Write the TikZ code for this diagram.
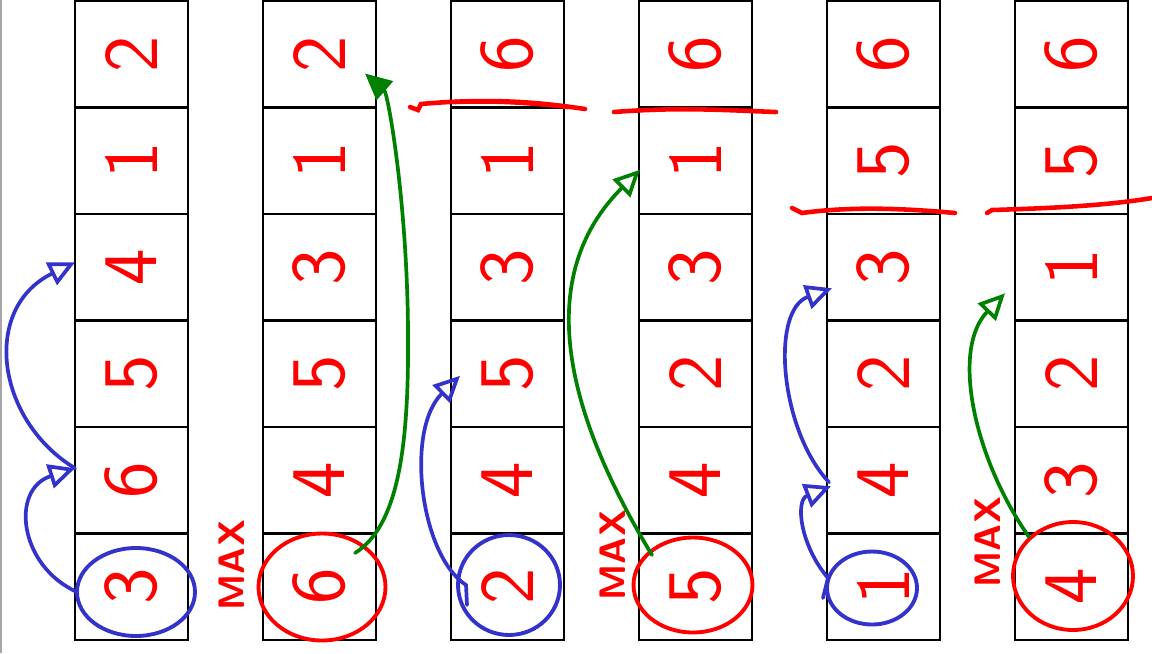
\documentclass[tikz,border=0pt]{standalone}
\usetikzlibrary{shapes.geometric,arrows.meta,calc}
\definecolor{penred}{RGB}{255,0,0}
\definecolor{penblue}{RGB}{51,51,204}
\definecolor{pengreen}{RGB}{0,128,0}
\begin{document}
\begin{tikzpicture}[x=0.02cm,y=-0.02cm,
  cell/.style={draw=black, line width=1.6pt, minimum width=2.26cm, minimum height=2.13cm, inner sep=0pt, outer sep=0pt},
  digit/.style={text=penred, rotate=90, font=\sffamily\fontsize{44}{44}\selectfont, inner sep=0pt},
  maxlbl/.style={text=penred, rotate=90, font=\sffamily\bfseries\fontsize{21}{21}\selectfont, inner sep=0pt},
  ring/.style={ellipse, line width=2.2pt, inner sep=0pt, outer sep=0pt},
  flip/.style={line width=2.1pt, line cap=round, -{Triangle[open,length=15pt,width=14pt]}},
  flipfill/.style={line width=2.1pt, line cap=round, -{Triangle[length=15pt,width=14pt]}},
  cut/.style={draw=penred, line width=2.6pt, line cap=round},
]
\useasboundingbox (0,0) rectangle (1152,653);
\fill[white] (0,0) rectangle (1152,653);
\draw[gray!70, line width=1.5pt] (0.7,0) -- (0.7,653);

% cells and digits
\foreach \cc/\va/\vb/\vc/\vd/\ve/\vf in {1/2/1/4/5/6/3,2/2/1/3/5/4/6,3/6/1/3/5/4/2,4/6/1/3/2/4/5,5/6/5/3/2/4/1,6/6/5/1/2/3/4}{
  \foreach \rr/\val in {1/\va,2/\vb,3/\vc,4/\vd,5/\ve,6/\vf}{
    \node[cell] (c\cc-\rr) at ({131.5+(\cc-1)*188},{1+(\rr-0.5)*106.5}) {};
    \node[digit] (d\cc-\rr) at (c\cc-\rr) {\val};
  }
}

% rings
\node[ring, draw=penblue, minimum width=2.36cm, minimum height=1.76cm] (e1) at (136,592) {};
\node[ring, draw=penred,  minimum width=2.54cm, minimum height=2.14cm] (e2) at (322,587) {};
\node[ring, draw=penblue, minimum width=2.04cm, minimum height=2.00cm] (e3) at (509,585) {};
\node[ring, draw=penred,  minimum width=2.38cm, minimum height=1.90cm] (e4) at (693,585) {};
\node[ring, draw=penblue, minimum width=1.80cm, minimum height=1.46cm] (e5) at (872,588) {};
\node[ring, draw=penred,  minimum width=2.40cm, minimum height=2.16cm] (e6) at (1073,576) {};

% MAX labels
\node[maxlbl] (m2) at (232,565) {MAX};
\node[maxlbl] (m4) at (613,555) {MAX};
\node[maxlbl] (m6) at (988,542) {MAX};

% column 1 flips
\draw[flip, penblue] (e1.west) .. controls +(-58,-26) and +(-65,21) .. (c1-5.168);
\draw[flip, penblue] (c1-5.168) .. controls +(-79,-48) and +(-94,46) .. (c1-3.175);

% column 2 flip
\draw[flipfill, pengreen] ($(e2.center)+(33,-34)$) .. controls ($(e2.center)+(78,-62)$) and ($(e2.center)+(87,-147)$) .. ($(e2.center)+(86,-257)$)
  .. controls ($(e2.center)+(85,-387)$) and ($(c2-1.south east)+(12,-14)$) .. ($(c2-1.south east)+(-11,-34)$);

% column 3 flip
\draw[flip, penblue] ($(e3.center)+(-42,20)$) -- ($(e3.center)+(-43,0)$) .. controls +(-46,-30) and +(-55,54) .. ($(c3-4.west)+(9,2)$);

% column 4 flip
\draw[flip, pengreen] ($(e4.center)+(-41,-30)$) .. controls +(-97,-160) and +(-100,100) .. ($(c4-2.west)+(1,9)$);

% column 5 flips
\draw[flip, penblue] ($(e5.center)+(-49,10)$) -- ($(e5.center)+(-44,-10)$) .. controls +(-28,-33) and +(-36,14) .. ($(c5-5.west)+(4,6)$);
\draw[flip, penblue] ($(c5-5.west)+(2,2)$) .. controls +(-49,-52) and +(-62,22) .. ($(c5-3.west)+(5,21)$);

% column 6 flip
\draw[flip, pengreen] ($(e6.center)+(-44,-39)$) .. controls +(-54,-77) and +(-55,57) .. ($(c6-3.west)+(-10,26)$);

% cut marks
\draw[cut] (410,107) -- (418,110) -- (421,104) .. controls (500,97) and (550,104) .. (585,109);
\draw[cut] (455,102) .. controls (500,100) and (540,104) .. (568,107);
\draw[cut] (614,112) .. controls (680,107) and (720,110) .. (776,112);
\draw[cut] (792,208) -- (802,213) .. controls (860,205) and (920,210) .. (955,213);
\draw[cut] (987,213) -- (992,210) .. controls (1060,208) and (1110,205) .. (1152,198);
\end{tikzpicture}
\end{document}
